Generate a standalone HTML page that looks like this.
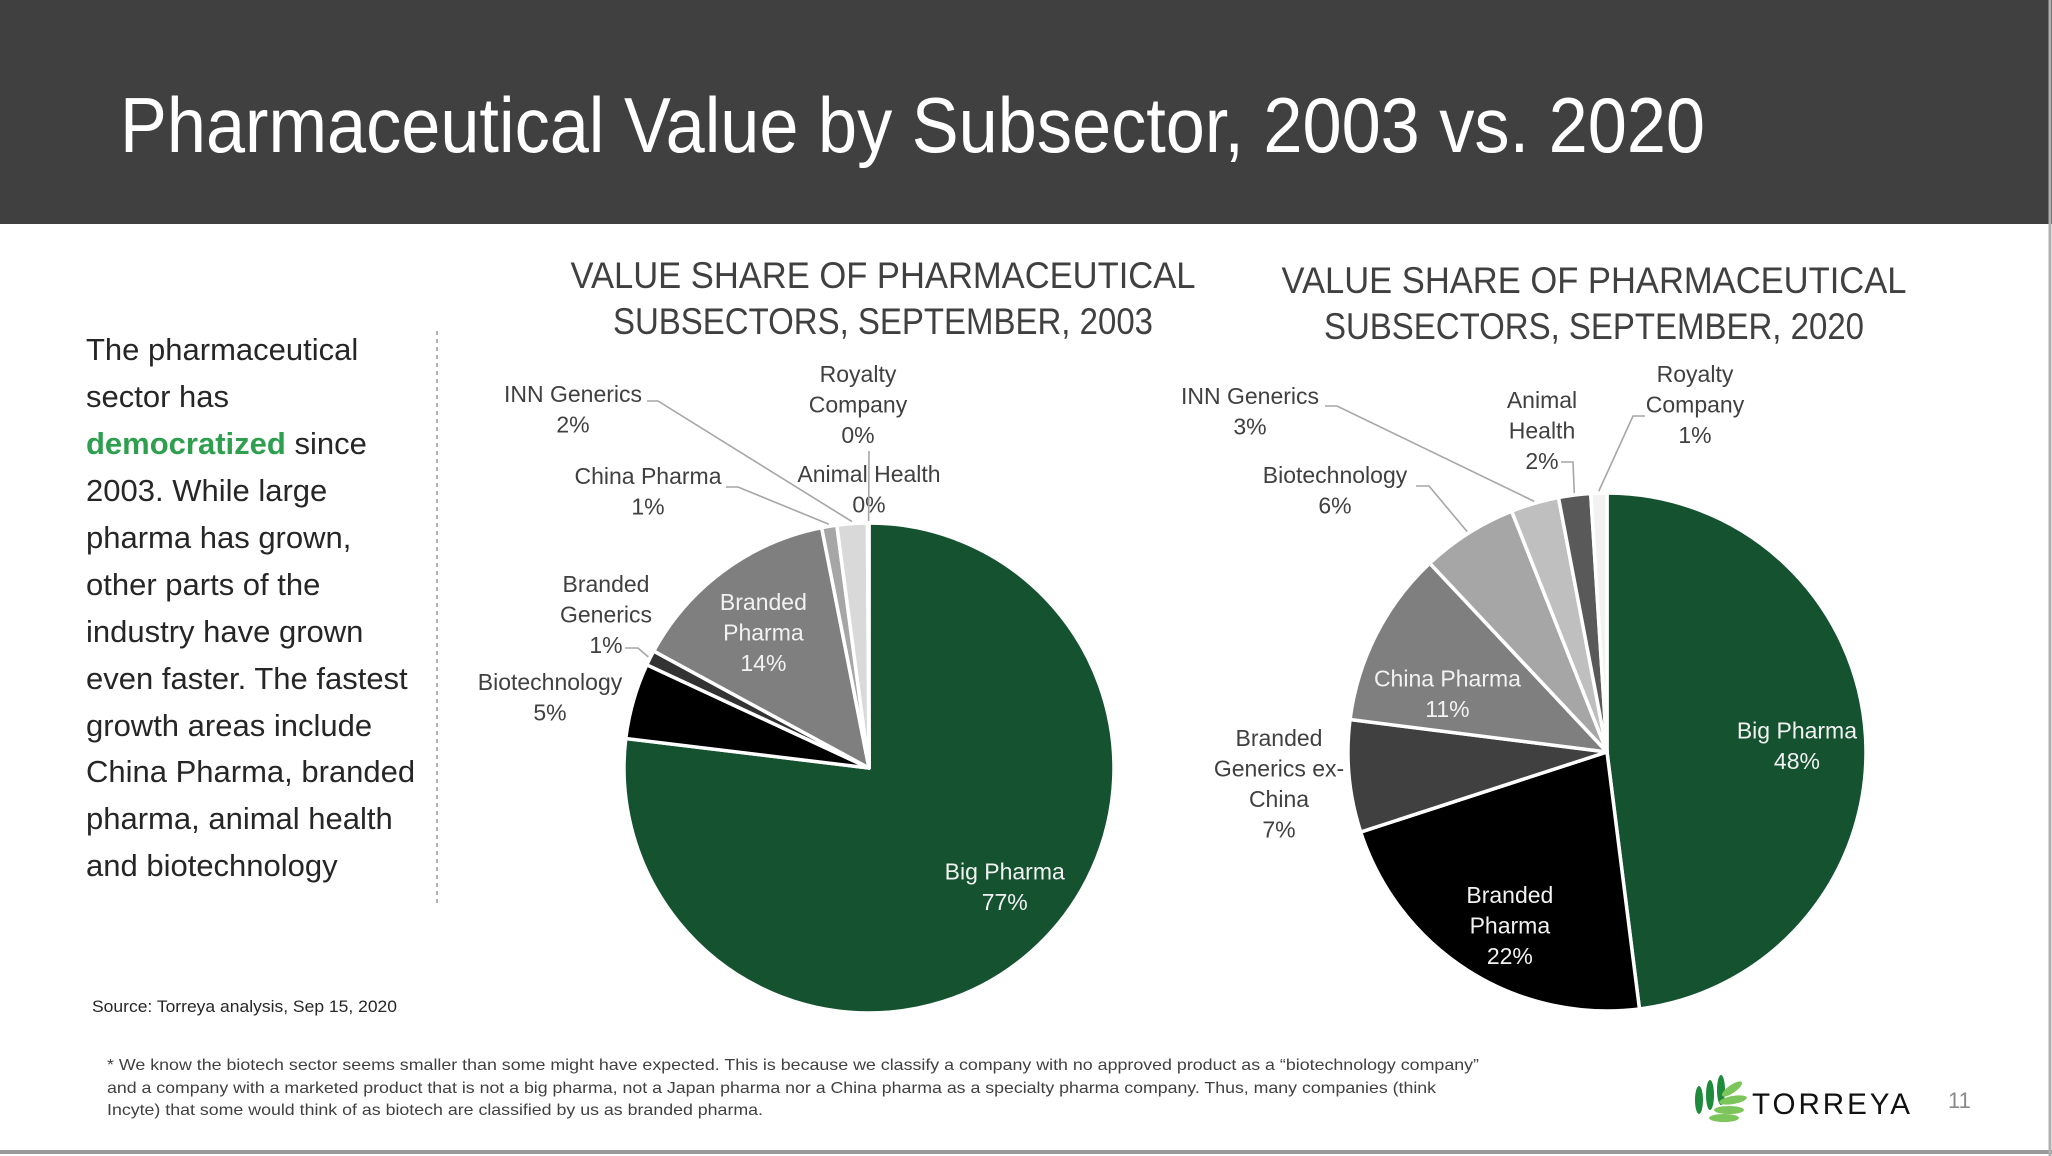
<!DOCTYPE html>
<html><head><meta charset="utf-8">
<style>
html,body{margin:0;padding:0;background:#fff;}
body{width:2052px;height:1156px;position:relative;overflow:hidden;font-family:"Liberation Sans",sans-serif;}
svg{position:absolute;left:0;top:0;}
</style></head>
<body>
<svg id="s" width="2052" height="1156" viewBox="0 0 2052 1156">
  <rect x="0" y="0" width="2052" height="224" fill="#404040"/>
  <text x="120" y="152" font-size="78" fill="#fff" textLength="1585" lengthAdjust="spacingAndGlyphs">Pharmaceutical Value by Subsector, 2003 vs. 2020</text>
  <g font-size="37" fill="#404040" text-anchor="middle">
    <text x="883" y="288" textLength="625" lengthAdjust="spacingAndGlyphs">VALUE SHARE OF PHARMACEUTICAL</text>
    <text x="883" y="334" textLength="540" lengthAdjust="spacingAndGlyphs">SUBSECTORS, SEPTEMBER, 2003</text>
    <text x="1594" y="293" textLength="625" lengthAdjust="spacingAndGlyphs">VALUE SHARE OF PHARMACEUTICAL</text>
    <text x="1594" y="339" textLength="540" lengthAdjust="spacingAndGlyphs">SUBSECTORS, SEPTEMBER, 2020</text>
  </g>
  <g font-size="31" fill="#262626">
    <text x="86" y="360">The pharmaceutical</text>
    <text x="86" y="407">sector has</text>
    <text x="86" y="454"><tspan fill="#2e9e4f" font-weight="bold">democratized</tspan> since</text>
    <text x="86" y="501">2003. While large</text>
    <text x="86" y="548">pharma has grown,</text>
    <text x="86" y="595">other parts of the</text>
    <text x="86" y="642">industry have grown</text>
    <text x="86" y="689">even faster. The fastest</text>
    <text x="86" y="736">growth areas include</text>
    <text x="86" y="782">China Pharma, branded</text>
    <text x="86" y="829">pharma, animal health</text>
    <text x="86" y="876">and biotechnology</text>
  </g>
  <line x1="437" y1="331" x2="437" y2="906" stroke="#999" stroke-width="1.5" stroke-dasharray="4,4"/>
  <text x="92" y="1012" font-size="17" fill="#262626" textLength="305" lengthAdjust="spacingAndGlyphs">Source: Torreya analysis, Sep 15, 2020</text>
  <g font-size="16" fill="#404040">
    <text x="107" y="1070" textLength="1372" lengthAdjust="spacingAndGlyphs">* We know the biotech sector seems smaller than some might have expected. This is because we classify a company with no approved product as a “biotechnology company”</text>
    <text x="107" y="1093" textLength="1329" lengthAdjust="spacingAndGlyphs">and a company with a marketed product that is not a big pharma, not a Japan pharma nor a China pharma as a specialty pharma company. Thus, many companies (think</text>
    <text x="107" y="1115" textLength="656" lengthAdjust="spacingAndGlyphs">Incyte) that some would think of as biotech are classified by us as branded pharma.</text>
  </g>
  <g>
    <g fill="#1e8a3c">
      <ellipse cx="1699" cy="1100" rx="4" ry="14"/>
      <ellipse cx="1710" cy="1095" rx="4" ry="15"/>
      <ellipse cx="1721" cy="1090" rx="4" ry="15"/>
    </g>
    <g fill="#7cc55a">
      <ellipse cx="1732" cy="1089" rx="12" ry="4" transform="rotate(-35 1732 1089)"/>
      <ellipse cx="1733" cy="1100" rx="14" ry="4" transform="rotate(-10 1733 1100)"/>
      <ellipse cx="1729" cy="1110" rx="15" ry="4"/>
      <ellipse cx="1724" cy="1118" rx="15" ry="4"/>
    </g>
    <text x="1752" y="1114" font-size="30" fill="#111" letter-spacing="3" textLength="161" lengthAdjust="spacingAndGlyphs">TORREYA</text>
  </g>
  <text x="1948" y="1108" font-size="22" fill="#8a8a8a">11</text>
  <line x1="0" y1="1152" x2="2052" y2="1152" stroke="#9a9a9a" stroke-width="4"/>
  <line x1="2050" y1="0" x2="2050" y2="1156" stroke="#b0b0b0" stroke-width="3"/>
  <g id="pie1"></g>
  <g id="pie2"></g>
</svg>
<script>
const cats2003 = ["Big Pharma","Biotechnology","Branded Generics","Branded Pharma","China Pharma","INN Generics","Animal Health","Royalty Company"];
const vals2003 = [77, 5, 1, 14, 1, 2, 0.05, 0.05];
const labels2003 = ["77%","5%","1%","14%","1%","2%","0%","0%"];
const cats2020 = ["Big Pharma","Branded Pharma","Branded Generics ex-China","China Pharma","Biotechnology","INN Generics","Animal Health","Royalty Company"];
const vals2020 = [48, 22, 7, 11, 6, 3, 2, 1];
const labels2020 = ["48%","22%","7%","11%","6%","3%","2%","1%"];

const NS = "http://www.w3.org/2000/svg";
function mk(tag, attrs, parent){
  const e = document.createElementNS(NS, tag);
  for (const k in attrs) e.setAttribute(k, attrs[k]);
  parent.appendChild(e);
  return e;
}
function pt(cx, cy, r, frac){ const a = frac*2*Math.PI; return [cx + r*Math.sin(a), cy - r*Math.cos(a)]; }

function drawPie(g, vals, cats, labels, cx, cy, r, colors, cfg){
  const total = vals.reduce((a,b)=>a+b,0);
  let acc = 0;
  vals.forEach((v,i)=>{
    const f0 = acc/total, f1 = (acc+v)/total; acc += v;
    const p0 = pt(cx,cy,r,f0), p1 = pt(cx,cy,r,f1);
    const large = (f1-f0) > 0.5 ? 1 : 0;
    const p = mk("path", {d:`M${cx},${cy} L${p0[0]},${p0[1]} A${r},${r} 0 ${large} 1 ${p1[0]},${p1[1]} Z`, fill:colors[i], stroke:"#fff", "stroke-width":3.5, "stroke-linejoin":"round"}, g);
    
    
    const c = cfg[i];
    const mid = (f0+f1)/2;
    let lx, ly, lines = c.lines.concat([labels[i]]);
    if (c.inside){
      const q = pt(cx,cy,r*0.7,mid); lx = q[0] + (c.dx||0); ly = q[1] - (lines.length-1)*15 + 8 + (c.dy||0);
    } else {
      lx = c.x; ly = c.y;
      if (c.lead){
        const e = pt(cx,cy,r+2,mid);
        const pts = c.lead.map(a=>a.join(",")).join(" ") + " " + e.join(",");
        const pl = mk("polyline", {points:pts, fill:"none", stroke:"#a6a6a6", "stroke-width":1.6}, g);
        
        
      }
    }
    const t = mk("text", {x:lx, y:ly, "font-size":23, fill: c.inside ? "#f2f2f2" : "#404040", "text-anchor":"middle"}, g);
    
    
    lines.forEach((ln,j)=>{ const ts = mk("tspan", {x:lx, dy: j===0?0:30.5}, t); ts.textContent = ln; });
  });
}

drawPie(document.getElementById("pie1"), vals2003, cats2003, labels2003, 869, 768, 245,
  ["#145230","#000000","#333333","#7f7f7f","#a6a6a6","#d9d9d9","#eeeeee","#f2f2f2"],
  [
    {inside:true, lines:["Big Pharma"], dx:22, dy:-10},
    {x:550, y:690, lines:["Biotechnology"]},
    {x:606, y:592, lines:["Branded","Generics"], lead:[[625,648],[638,648]]},
    {inside:true, lines:["Branded","Pharma"], dx:-4, dy:2},
    {x:648, y:484, lines:["China Pharma"], lead:[[726,487],[738,487]]},
    {x:573, y:402, lines:["INN Generics"], lead:[[647,401],[658,401]]},
    {x:869, y:482, lines:["Animal Health"]},
    {x:858, y:382, lines:["Royalty","Company"], lead:[[869,451]]}
  ]);

drawPie(document.getElementById("pie2"), vals2020, cats2020, labels2020, 1607, 752, 259,
  ["#145230","#000000","#404040","#7f7f7f","#a6a6a6","#bfbfbf","#595959","#f2f2f2"],
  [
    {inside:true, lines:["Big Pharma"], dx:9, dy:5},
    {inside:true, lines:["Branded","Pharma"], dx:0, dy:20},
    {x:1279, y:746, lines:["Branded","Generics ex-","China"]},
    {inside:true, lines:["China Pharma"], dx:2, dy:24},
    {x:1335, y:483, lines:["Biotechnology"], lead:[[1416,486],[1429,486]]},
    {x:1250, y:404, lines:["INN Generics"], lead:[[1325,406],[1337,406]]},
    {x:1542, y:408, lines:["Animal","Health"], lead:[[1561,462],[1573,462]]},
    {x:1695, y:382, lines:["Royalty","Company"], lead:[[1645,416],[1633,416]]}
  ]);
</script>
</body></html>
